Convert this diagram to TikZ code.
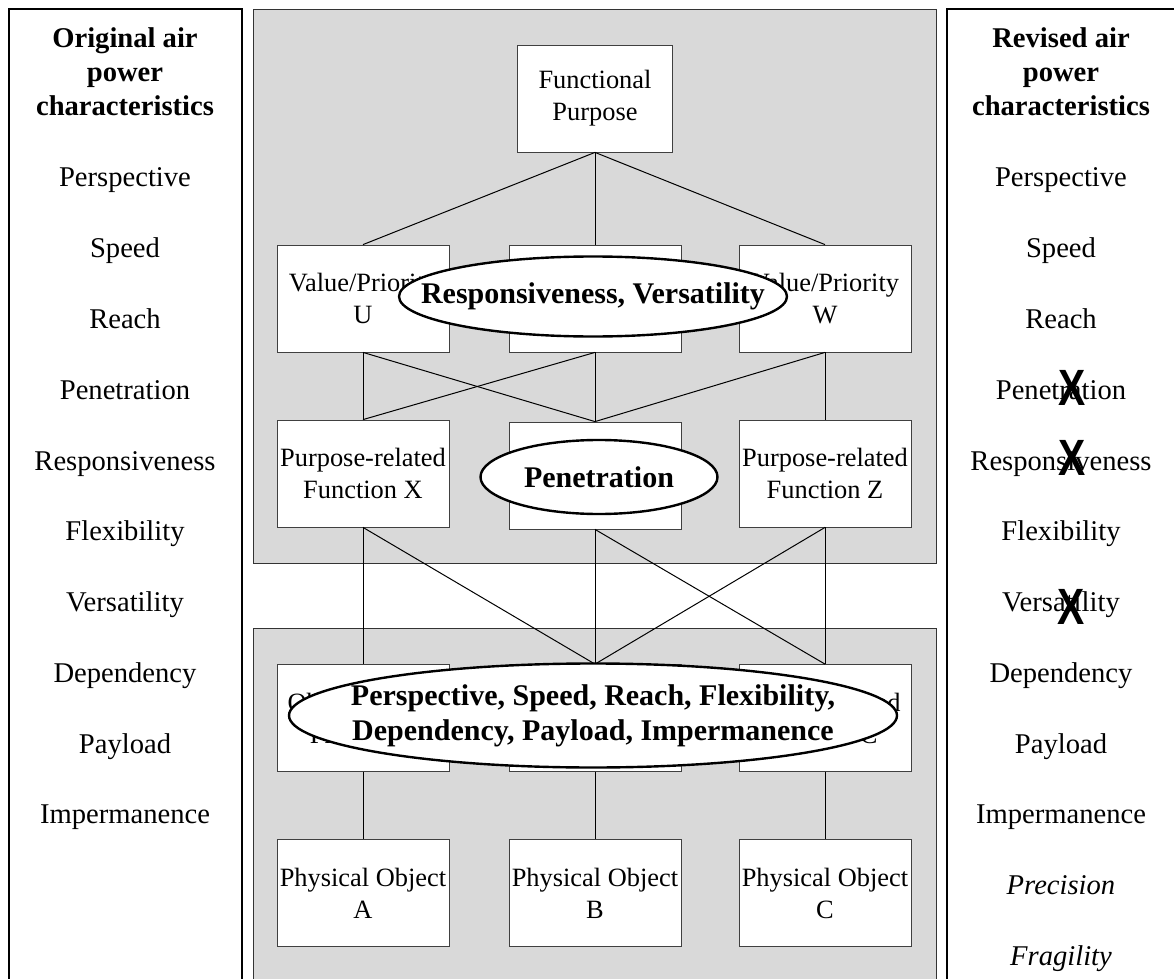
\documentclass[tikz,border=0pt]{standalone}
\usepackage{fontspec}
\setmainfont{Liberation Serif}
\newfontfamily\crossfont{Liberation Sans}
\usetikzlibrary{shapes.geometric}
\newcommand{\crossX}{\scalebox{0.8}[1]{\crossfont\bfseries X}}
\begin{document}
\begin{tikzpicture}[x=0.5pt,y=-0.5pt,
  hbox/.style={draw=black!75,fill=white,align=center,inner sep=0pt,minimum width=86pt,minimum height=53.5pt,font=\fontsize{13.2}{16}\selectfont},
  oval/.style={draw,line width=1.2pt,fill=white,shape=ellipse,inner sep=0pt,font=\fontsize{15}{17.5}\selectfont\bfseries},
  link/.style={line width=0.5pt},
  item/.style={anchor=base,font=\fontsize{14.3}{17}\selectfont},
  head/.style={align=center,font=\fontsize{14.3}{17}\selectfont\bfseries},
  cross/.style={inner sep=0pt,font=\fontsize{25.5}{26}\selectfont}]
\clip (0,0) rectangle (1174,979);
% side panels and shaded levels
\draw[line width=1pt] (9,9) rectangle (241.5,1000);
\draw[line width=1pt] (947,9) rectangle (1180,1000);
\draw[draw=black!80,fill=gray!30] (253,9) rectangle (936,563);
\draw[draw=black!80,fill=gray!30] (253,628) rectangle (936,1000);
% abstraction hierarchy
\node [hbox,minimum width=77.5pt,name=fp] at (595,98.5){Functional\\Purpose};
\node [hbox,name=v1] at (363,298.5){Value/Priority\\U};
\node [hbox,name=v2] at (595,298.5){Value/Priority\\V};
\node [hbox,name=v3] at (825,298.5){Value/Priority\\W};
\node [hbox,name=f1] at (363,473.5){Purpose-related\\Function X};
\node [hbox,name=f2] at (595,475.5){Purpose-related\\Function Y};
\node [hbox,name=f3] at (825,473.5){Purpose-related\\Function Z};
\node [hbox,name=o1] at (363,718){Object-related\\Process A};
\node [hbox,name=o2] at (595,718){Object-related\\Process B};
\node [hbox,name=o3] at (825,718){Object-related\\Process C};
\node [hbox,name=ph1] at (363,893){Physical Object\\A};
\node [hbox,name=ph2] at (595,893){Physical Object\\B};
\node [hbox,name=ph3] at (825,893){Physical Object\\C};
\draw[link] (fp.south)--(v1.north);
\draw[link] (fp.south)--(v2.north);
\draw[link] (fp.south)--(v3.north);
\draw[link] (v1.south)--(f1.north);
\draw[link] (v1.south)--(f2.north);
\draw[link] (v2.south)--(f1.north);
\draw[link] (v2.south)--(f2.north);
\draw[link] (v3.south)--(f2.north);
\draw[link] (v3.south)--(f3.north);
\draw[link] (f1.south)--(o1.north);
\draw[link] (f1.south)--(o2.north);
\draw[link] (f2.south)--(o2.north);
\draw[link] (f2.south)--(o3.north);
\draw[link] (f3.south)--(o2.north);
\draw[link] (f3.south)--(o3.north);
\draw[link] (o1.south)--(ph1.north);
\draw[link] (o2.south)--(ph2.north);
\draw[link] (o3.south)--(ph3.north);
% characteristics mapped onto levels
\node [oval,minimum width=194pt,minimum height=40pt,name=e1] at (593,296.5){\makebox[0pt]{Responsiveness, Versatility}};
\node [oval,minimum width=118.5pt,minimum height=37pt,name=e2] at (599,477){\makebox[0pt]{Penetration}};
\node [oval,minimum width=304pt,minimum height=52pt,name=e3] at (593,715.5){\makebox[0pt]{\begin{tabular}{@{}c@{}}Perspective, Speed, Reach, Flexibility,\\Dependency, Payload, Impermanence\end{tabular}}};
% original characteristics
\node [head,name=lh] at (125,72){Original air\\power\\characteristics};
\node [item,name=l1] at (125,187){Perspective};
\node [item,name=l2] at (125,257.75){Speed};
\node [item,name=l3] at (125,328.5){Reach};
\node [item,name=l4] at (125,399.25){Penetration};
\node [item,name=l5] at (125,470){Responsiveness};
\node [item,name=l6] at (125,540.75){Flexibility};
\node [item,name=l7] at (125,611.5){Versatility};
\node [item,name=l8] at (125,682.25){Dependency};
\node [item,name=l9] at (125,753){Payload};
\node [item,name=l10] at (125,823.75){Impermanence};
% revised characteristics
\node [head,name=rh] at (1061,72){Revised air\\power\\characteristics};
\node [item,name=r1] at (1061,187){Perspective};
\node [item,name=r2] at (1061,257.75){Speed};
\node [item,name=r3] at (1061,328.5){Reach};
\node [item,name=r4] at (1061,399.25){Penetration};
\node [item,name=r5] at (1061,470){Responsiveness};
\node [item,name=r6] at (1061,540.75){Flexibility};
\node [item,name=r7] at (1061,611.5){Versatility};
\node [item,name=r8] at (1061,682.25){Dependency};
\node [item,name=r9] at (1061,753){Payload};
\node [item,name=r10] at (1061,823.75){Impermanence};
\node [item,name=r11] at (1061,894.5){\itshape Precision};
\node [item,name=r12] at (1061,965.25){\itshape Fragility};
\node [cross,name=x1] at (1072,388){\crossX};
\node [cross,name=x2] at (1072,458){\crossX};
\node [cross,name=x3] at (1071,607){\crossX};
\end{tikzpicture}
\end{document}
